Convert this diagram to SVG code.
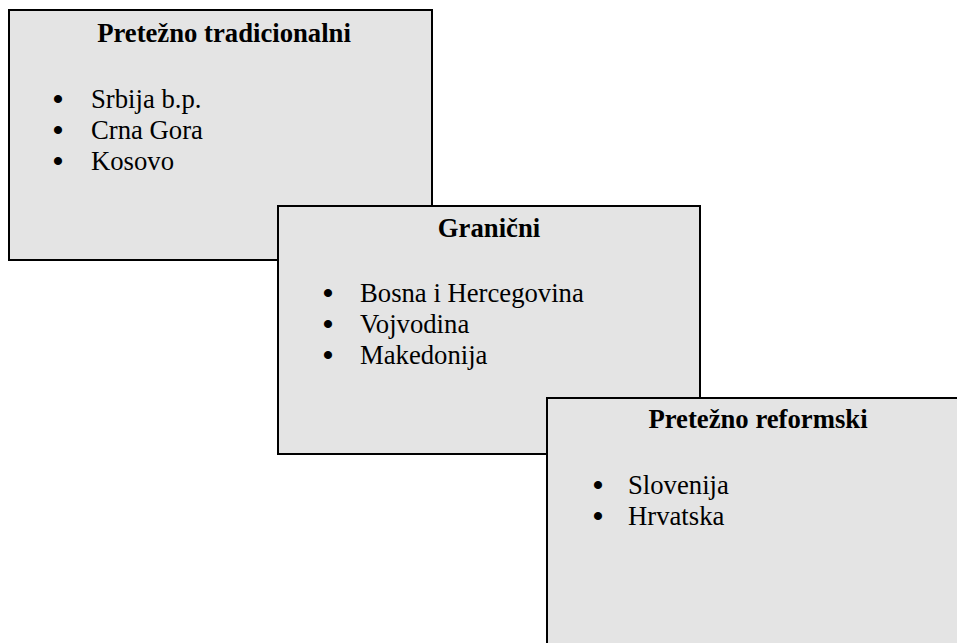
<svg xmlns="http://www.w3.org/2000/svg" width="957" height="643" viewBox="0 0 957 643">
<style>
.box{fill:#e4e4e4;stroke:#000;stroke-width:2}
.t{font-family:"Liberation Serif","Times New Roman",serif;font-size:26.7px;font-weight:bold;text-anchor:middle;fill:#000}
.i{font-family:"Liberation Serif","Times New Roman",serif;font-size:26.7px;fill:#000}
.b{font-family:"Liberation Serif","Times New Roman",serif;font-size:30px;font-weight:bold;text-anchor:middle;fill:#000}
</style>
<rect width="957" height="643" fill="#fff"/>
<g id="tradicionalni">
<rect class="box" x="9" y="10" width="423" height="250"/>
<text class="t" x="224" y="42">Pretežno tradicionalni</text>
<text class="b" x="58" y="109">•</text><text class="i" x="91" y="108">Srbija b.p.</text>
<text class="b" x="58" y="140">•</text><text class="i" x="91" y="139">Crna Gora</text>
<text class="b" x="58" y="171">•</text><text class="i" x="91" y="170">Kosovo</text>
</g>
<g id="granicni">
<rect class="box" x="278" y="206" width="422" height="248"/>
<text class="t" x="489" y="237">Granični</text>
<text class="b" x="328" y="303">•</text><text class="i" x="360" y="302">Bosna i Hercegovina</text>
<text class="b" x="328" y="334">•</text><text class="i" x="360" y="333">Vojvodina</text>
<text class="b" x="328" y="365">•</text><text class="i" x="360" y="364">Makedonija</text>
</g>
<g id="reformski">
<rect class="box" x="547" y="398" width="422" height="260"/>
<text class="t" x="758" y="428">Pretežno reformski</text>
<text class="b" x="598" y="495">•</text><text class="i" x="628" y="494">Slovenija</text>
<text class="b" x="598" y="526">•</text><text class="i" x="628" y="525">Hrvatska</text>
</g>
<g id="connectors"/>
</svg>
